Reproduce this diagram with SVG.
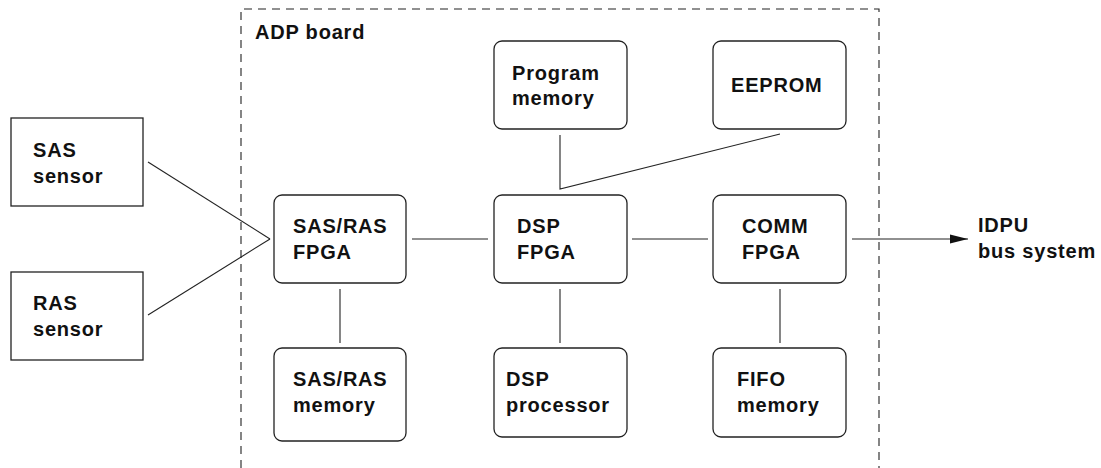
<svg xmlns="http://www.w3.org/2000/svg" width="1101" height="468" viewBox="0 0 1101 468">
<style>
  .box{fill:#fff;stroke:#222;stroke-width:1.3}
  .t{font-family:"Liberation Sans",Arial,sans-serif;font-weight:bold;font-size:20px;letter-spacing:0.8px;fill:#111}
  .ln{stroke:#222;stroke-width:1.1;fill:none}
  .dash{stroke:#222;stroke-width:1.1;fill:none;stroke-dasharray:8 6}
</style>
<defs>
  <marker id="arr" markerWidth="18" markerHeight="10" refX="18" refY="5" orient="auto" markerUnits="userSpaceOnUse">
    <path d="M0,0.5 L18,5 L0,9.5 Z" fill="#111"/>
  </marker>
</defs>
<rect width="1101" height="468" fill="#fff"/>
<g id="board">
  <path class="dash" d="M241,468 V9 H879 V468"/>
  <text class="t" x="255" y="39">ADP board</text>
</g>
<g id="connectors">
  <line class="ln" x1="148" y1="162" x2="270" y2="239"/>
  <line class="ln" x1="148" y1="315" x2="270" y2="239"/>
  <line class="ln" x1="412" y1="239" x2="488" y2="239"/>
  <line class="ln" x1="632" y1="239" x2="708" y2="239"/>
  <line class="ln" x1="852" y1="239" x2="968" y2="239" marker-end="url(#arr)"/>
  <line class="ln" x1="340" y1="289" x2="340" y2="343"/>
  <line class="ln" x1="560" y1="289" x2="560" y2="343"/>
  <line class="ln" x1="780" y1="289" x2="780" y2="343"/>
  <polyline class="ln" points="560,135 560,189 780,134"/>
</g>
<g id="sas-sensor">
  <rect class="box" x="11" y="118" width="132" height="88"/>
  <text class="t" x="33" y="157">SAS</text>
  <text class="t" x="33" y="183">sensor</text>
</g>
<g id="ras-sensor">
  <rect class="box" x="11" y="272" width="132" height="88"/>
  <text class="t" x="33" y="310">RAS</text>
  <text class="t" x="33" y="336">sensor</text>
</g>
<g id="program-memory">
  <rect class="box" x="494" y="41" width="133" height="88" rx="8"/>
  <text class="t" x="512" y="80">Program</text>
  <text class="t" x="512" y="105">memory</text>
</g>
<g id="eeprom">
  <rect class="box" x="713" y="41" width="133" height="88" rx="8"/>
  <text class="t" x="731" y="92">EEPROM</text>
</g>
<g id="sasras-fpga">
  <rect class="box" x="274" y="195" width="132" height="88" rx="8"/>
  <text class="t" x="293" y="233">SAS/RAS</text>
  <text class="t" x="293" y="259">FPGA</text>
</g>
<g id="dsp-fpga">
  <rect class="box" x="494" y="195" width="133" height="88" rx="8"/>
  <text class="t" x="517" y="233">DSP</text>
  <text class="t" x="517" y="259">FPGA</text>
</g>
<g id="comm-fpga">
  <rect class="box" x="713" y="195" width="133" height="88" rx="8"/>
  <text class="t" x="742" y="233">COMM</text>
  <text class="t" x="742" y="259">FPGA</text>
</g>
<g id="sasras-memory">
  <rect class="box" x="274" y="348" width="132" height="93" rx="8"/>
  <text class="t" x="293" y="386">SAS/RAS</text>
  <text class="t" x="293" y="412">memory</text>
</g>
<g id="dsp-processor">
  <rect class="box" x="494" y="348" width="133" height="89" rx="8"/>
  <text class="t" x="506" y="386">DSP</text>
  <text class="t" x="506" y="412">processor</text>
</g>
<g id="fifo-memory">
  <rect class="box" x="713" y="348" width="133" height="89" rx="8"/>
  <text class="t" x="737" y="386">FIFO</text>
  <text class="t" x="737" y="412">memory</text>
</g>
<g id="idpu">
  <text class="t" x="978" y="232">IDPU</text>
  <text class="t" x="978" y="258">bus system</text>
</g>
</svg>
